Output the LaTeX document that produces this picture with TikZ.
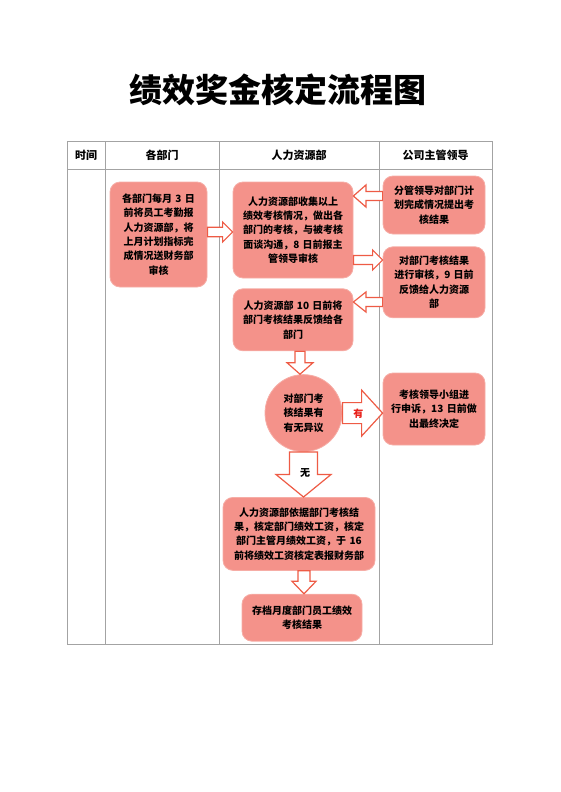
\documentclass[tikz,border=0pt]{standalone}
\usepackage{fontspec}
\setmainfont{Noto Sans CJK SC}
\usepackage{xcolor}
\usetikzlibrary{arrows,positioning,calc}
\usetikzlibrary{arrows.meta}
\definecolor{colorBox}{HTML}{F4928A}
\definecolor{colorBoxLine}{HTML}{F6ADA6}
\definecolor{colorArrow}{HTML}{EE5B45}
\definecolor{colorGrid}{HTML}{A3A3A3}
\definecolor{colorYes}{HTML}{E8201A}

\begin{document}
\begin{tikzpicture}[x=1pt,y=-1pt,>=latex',every node/.append style={align=center},
    box/.style={draw=colorBoxLine, line width=0.8pt, fill=colorBox, rounded corners=10pt, inner sep=3pt, font=\bfseries\fontsize{10}{14.4}\selectfont},
    hdr/.style={font=\bfseries\fontsize{11}{13}\selectfont},
    lbl/.style={font=\bfseries\fontsize{10}{12}\selectfont, inner sep=1pt},
    grid/.style={draw=colorGrid, line width=0.8pt},
    blk/.style={draw=colorArrow, fill=white, line width=1.2pt, line join=miter},
    blkR/.style n args={3}{blk, to path={let \p1=(\tikztostart), \p2=(\tikztotarget) in (\x1,\y1+#1) -- (\x2-#3,\y1+#1) -- (\x2-#3,\y1+#2) -- (\x2,\y1) -- (\x2-#3,\y1-#2) -- (\x2-#3,\y1-#1) -- (\x1,\y1-#1) -- cycle}},
    blkL/.style n args={3}{blk, to path={let \p1=(\tikztostart), \p2=(\tikztotarget) in (\x1,\y1+#1) -- (\x2+#3,\y1+#1) -- (\x2+#3,\y1+#2) -- (\x2,\y1) -- (\x2+#3,\y1-#2) -- (\x2+#3,\y1-#1) -- (\x1,\y1-#1) -- cycle}},
    blkD/.style n args={3}{blk, to path={let \p1=(\tikztostart), \p2=(\tikztotarget) in (\x1-#1,\y1) -- (\x1-#1,\y2+#3) -- (\x1-#2,\y2+#3) -- (\x1,\y2) -- (\x1+#2,\y2+#3) -- (\x1+#1,\y2+#3) -- (\x1+#1,\y1) -- cycle}},
    ]
    \useasboundingbox (0,0) rectangle (560,792);
    \node [font=\bfseries\fontsize{33}{36}\selectfont] (T) at (277.5,90) {绩效奖金核定流程图};

    % table
    \draw [grid] (67,141) rectangle (492,644);
    \draw [grid] (67,169) -- (492,169);
    \draw [grid] (105,141) -- (105,644);
    \draw [grid] (219,141) -- (219,644);
    \draw [grid] (379,141) -- (379,644);
    \node [hdr] (hT) at (86,155)    {时间};
    \node [hdr] (hD) at (162,155)   {各部门};
    \node [hdr] (hH) at (299,155)   {人力资源部};
    \node [hdr] (hL) at (435.5,155) {公司主管领导};

    % boxes
    \node [box, text width=91pt, minimum height=105pt] (D1) at (158.5,234.5) {各部门每月 3 日\\前将员工考勤报\\人力资源部，将\\上月计划指标完\\成情况送财务部\\审核};
    \node [box, text width=114pt, minimum height=96pt] (H1) at (293,230) {人力资源部收集以上\\绩效考核情况，做出各\\部门的考核，与被考核\\面谈沟通，8 日前报主\\管领导审核};
    \node [box, text width=96pt, minimum height=58pt] (M1) at (434,205) {分管领导对部门计\\划完成情况提出考\\核结果};
    \node [box, text width=96pt, minimum height=71pt, below=12pt of M1] (M2) {对部门考核结果\\进行审核，9 日前\\反馈给人力资源\\部};
    \node [box, text width=114pt, minimum height=62pt, below=10pt of H1] (H2) {人力资源部 10 日前将\\部门考核结果反馈给各\\部门};
    \node [box, circle, rounded corners=0pt, inner sep=0pt, text width=46pt, minimum size=77pt, below=23pt of H2, xshift=10.5pt] (Q) {对部门考\\核结果有\\有无异议};
    \node [box, text width=96pt, minimum height=72pt] (M3) at (434,409) {考核领导小组进\\行申诉，13 日前做\\出最终决定};
    \node [box, text width=146pt, minimum height=73pt, below=45pt of Q, xshift=-4.5pt] (H3) {人力资源部依据部门考核结\\果，核定部门绩效工资，核定\\部门主管月绩效工资，于 16\\前将绩效工资核定表报财务部};
    \node [box, text width=114pt, minimum height=47pt, below=23pt of H3, xshift=3pt] (H4) {存档月度部门员工绩效\\考核结果};

    % block arrows
    \draw [blkR={4.7pt}{10pt}{10pt}] (D1.east |- 0,232) to (H1.west);
    \draw [blkL={4.5pt}{11pt}{12.5pt}] (M1.west |- 0,196) to (H1.east);
    \draw [blkR={4.5pt}{10pt}{10pt}] (H1.east |- 0,260) to (M2.west);
    \draw [blkL={4.5pt}{10pt}{12.5pt}] (M2.west |- 0,302) to (H2.east);
    \draw [blkD={5pt}{13pt}{11.5pt}] (H2.south -| 300,0) to (Q.north);
    \draw [blkR={10.5pt}{23pt}{21pt}] (Q.east) to (M3.west);
    \draw [blkD={14pt}{27.5pt}{22.5pt}] (Q.south) to (H3.north);
    \draw [blkD={6pt}{12pt}{12.5pt}] (H3.south -| 304,0) to (H4.north);
    \node [lbl, text=colorYes] (yes) at ($(Q.east)+(16,0.5)$) {有};
    \node [lbl] (no) at ($(Q.south)+(1.5,21)$) {无};
\end{tikzpicture}
\end{document}
